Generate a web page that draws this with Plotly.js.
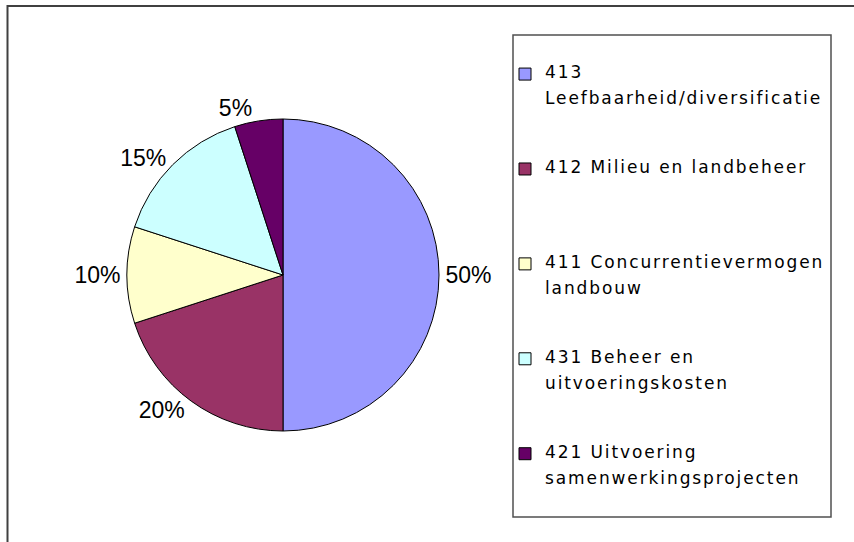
<!DOCTYPE html>
<html>
<head>
<meta charset="utf-8">
<script src="https://cdn.plot.ly/plotly-3.0.1.min.js"></script>
<style>
html, body { margin: 0; padding: 0; background: #fff; }
#chart { width: 854px; height: 542px; }
.legendtext { letter-spacing: 1.9px; }
</style>
</head>
<body>
<div id="chart"></div>
<script>
// Data
const categories = [
  ['413', 'Leefbaarheid/diversificatie'],
  ['412 Milieu en landbeheer'],
  ['411 Concurrentievermogen', 'landbouw'],
  ['431 Beheer en', 'uitvoeringskosten'],
  ['421 Uitvoering', 'samenwerkingsprojecten']
];
const values = [50, 20, 10, 15, 5];
const sliceColors = ['#9999FF', '#993366', '#FFFFCC', '#CCFFFF', '#660066'];

// Legend text: each visible line is separated by a blank spacer line,
// then padded so every entry (except the last) takes the same height.
const LINES_PER_ENTRY = 7;
const legendLabels = categories.map(function (lines, idx) {
  const out = [];
  lines.forEach(function (ln, i) {
    if (i > 0) out.push('&nbsp;');
    out.push('<span style="font-size:17px">' + ln + '</span>');
  });
  if (idx < categories.length - 1) {
    while (out.length < LINES_PER_ENTRY) out.push('&nbsp;');
  }
  return out.join('<br>');
});

const trace = {
  type: 'pie',
  labels: legendLabels,
  values: values,
  sort: false,
  direction: 'clockwise',
  rotation: 0,
  marker: { colors: sliceColors, line: { color: '#000000', width: 1 } },
  textinfo: 'percent',
  textposition: 'outside',
  outsidetextfont: { family: 'Arial, "Liberation Sans", sans-serif', size: 23, color: '#000000' },
  hoverinfo: 'percent',
  domain: { x: [127 / 854, 439 / 854], y: [111 / 542, 423 / 542] }
};

const layout = {
  width: 854,
  height: 542,
  margin: { l: 0, r: 0, t: 0, b: 0 },
  paper_bgcolor: '#ffffff',
  plot_bgcolor: '#ffffff',
  showlegend: true,
  legend: {
    x: 505 / 854,
    xanchor: 'left',
    y: 1 - 61 / 542,
    yanchor: 'top',
    valign: 'top',
    bgcolor: 'rgba(0,0,0,0)',
    borderwidth: 0,
    font: { family: '"DejaVu Sans", sans-serif', size: 10.1, color: '#000000' }
  },
  shapes: [
    { type: 'rect', xref: 'paper', yref: 'paper',
      x0: 7.5 / 854, x1: 1.05, y0: -0.05, y1: 1 - 6 / 542,
      line: { color: '#404040', width: 2 }, fillcolor: 'rgba(0,0,0,0)' },
    { type: 'rect', xref: 'paper', yref: 'paper',
      x0: 513 / 854, x1: 831 / 854, y0: 1 - 517 / 542, y1: 1 - 35 / 542,
      line: { color: '#505050', width: 1.5 }, fillcolor: 'rgba(0,0,0,0)' }
  ]
};

Plotly.newPlot('chart', [trace], layout, { staticPlot: true, displayModeBar: false });
</script>
</body>
</html>
